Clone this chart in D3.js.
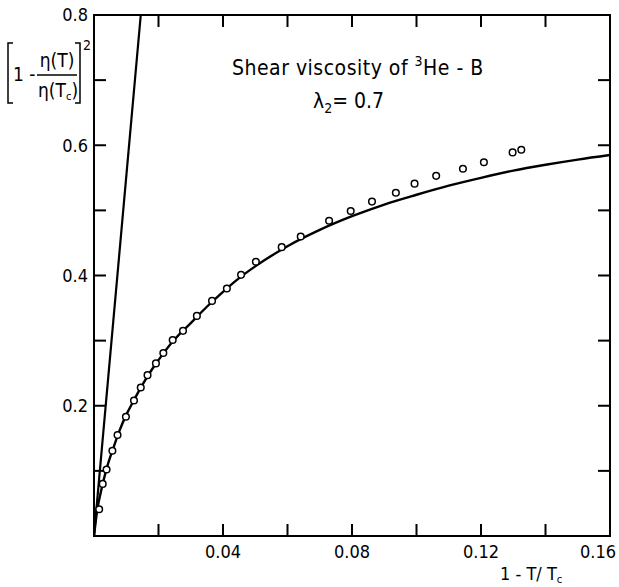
<!DOCTYPE html>
<html>
<head>
<meta charset="utf-8">
<script src="https://cdn.jsdelivr.net/npm/d3@7"></script>
<style>
  html, body { margin: 0; padding: 0; background: #fff; }
  text { font-family: "DejaVu Sans Condensed", "DejaVu Sans", sans-serif; fill: #000; }
</style>
</head>
<body>
<div id="chart"></div>
<script>
// measured points (1 - T/Tc, [1 - eta(T)/eta(Tc)]^2)
var dataX = [0.0016, 0.0027, 0.0039, 0.0057, 0.0073, 0.0099, 0.0124, 0.0145, 0.0166, 0.0192,
             0.0215, 0.0244, 0.0276, 0.0319, 0.0366, 0.0412, 0.0456, 0.0502, 0.0582, 0.0641,
             0.0729, 0.0796, 0.0862, 0.0936, 0.0994, 0.1061, 0.1144, 0.1209, 0.1298, 0.1325];
var dataY = [0.041, 0.080, 0.102, 0.131, 0.155, 0.183, 0.208, 0.228, 0.247, 0.265,
             0.281, 0.301, 0.315, 0.338, 0.361, 0.380, 0.401, 0.421, 0.4435, 0.460,
             0.484, 0.499, 0.5135, 0.527, 0.541, 0.553, 0.564, 0.574, 0.589, 0.593];

// theory curve (lambda2 = 0.7)
var curveX = [0, 0.001, 0.002, 0.004, 0.006, 0.008, 0.010, 0.012, 0.015, 0.018, 0.021, 0.025,
              0.030, 0.035, 0.040, 0.045, 0.050, 0.060, 0.070, 0.080, 0.090, 0.100, 0.110,
              0.120, 0.130, 0.140, 0.150, 0.160];
var curveY = [0, 0.040, 0.065, 0.105, 0.135, 0.163, 0.186, 0.205, 0.232, 0.256, 0.277, 0.302,
              0.327, 0.352, 0.375, 0.396, 0.414, 0.445, 0.470, 0.491, 0.509, 0.524, 0.538,
              0.550, 0.561, 0.570, 0.578, 0.585];

// steep straight line through origin
var lineX = [0, 0.0145];
var lineY = [0, 0.8];

var xTicks = [0.02, 0.04, 0.06, 0.08, 0.10, 0.12, 0.14];
var xLabels = [0.04, 0.08, 0.12, 0.16];
var xLabelText = ["0.04", "0.08", "0.12", "0.16"];
var yTicks = [0.1, 0.2, 0.3, 0.4, 0.5, 0.6, 0.7];
var yLabels = [0.2, 0.4, 0.6, 0.8];
var yLabelText = ["0.2", "0.4", "0.6", "0.8"];

var chartW = 619, chartH = 587;
var pLeft = 94, pRight = 610, pTop = 15, pBottom = 536;

var svg = d3.select("#chart").append("svg")
    .attr("width", chartW)
    .attr("height", chartH);

var x = d3.scaleLinear().domain([0, 0.16]).range([pLeft, pRight]);
var y = d3.scaleLinear().domain([0, 0.8]).range([pBottom, pTop]);

// frame
svg.append("rect")
    .attr("x", pLeft).attr("y", pTop)
    .attr("width", pRight - pLeft).attr("height", pBottom - pTop)
    .attr("fill", "none").attr("stroke", "#000").attr("stroke-width", 2);

// inward ticks on all four sides
var tl = 12;
var tickG = svg.append("g").attr("stroke", "#000").attr("stroke-width", 2);
xTicks.forEach(function(v) {
    tickG.append("line").attr("x1", x(v)).attr("x2", x(v)).attr("y1", pBottom).attr("y2", pBottom - tl);
    tickG.append("line").attr("x1", x(v)).attr("x2", x(v)).attr("y1", pTop).attr("y2", pTop + tl);
});
yTicks.forEach(function(v) {
    tickG.append("line").attr("x1", pLeft).attr("x2", pLeft + tl).attr("y1", y(v)).attr("y2", y(v));
    tickG.append("line").attr("x1", pRight).attr("x2", pRight - tl).attr("y1", y(v)).attr("y2", y(v));
});

// tick labels
xLabels.forEach(function(v, i) {
    var last = i == xLabels.length - 1;
    svg.append("text")
        .attr("x", last ? 616 : x(v))
        .attr("y", pBottom + 22)
        .attr("text-anchor", last ? "end" : "middle")
        .style("font-size", "18px")
        .text(xLabelText[i]);
});
yLabels.forEach(function(v, i) {
    svg.append("text")
        .attr("x", 88)
        .attr("y", y(v))
        .attr("dy", "0.35em")
        .attr("text-anchor", "end")
        .style("font-size", "18px")
        .text(yLabelText[i]);
});

// x axis title
var xt = svg.append("text").attr("x", 500).attr("y", 580).style("font-size", "18px");
xt.append("tspan").text("1 - T/ T");
xt.append("tspan").attr("dy", 3).style("font-size", "11px").text("c");

// y axis label: [1 - eta(T)/eta(Tc)]^2
var yl = svg.append("g");
yl.append("path")
    .attr("d", "M13,43 H8 V103 H13")
    .attr("fill", "none").attr("stroke", "#000").attr("stroke-width", 1.5);
yl.append("path")
    .attr("d", "M75,43 H80 V103 H75")
    .attr("fill", "none").attr("stroke", "#000").attr("stroke-width", 1.5);
yl.append("text").attr("x", 13).attr("y", 81).style("font-size", "19px").text("1 -");
yl.append("line").attr("x1", 37).attr("x2", 77).attr("y1", 75).attr("y2", 75)
    .attr("stroke", "#000").attr("stroke-width", 1.5);
yl.append("text").attr("x", 57).attr("y", 67).attr("text-anchor", "middle")
    .style("font-size", "19px").text("η(T)");
var den = yl.append("text").attr("x", 38).attr("y", 97).style("font-size", "19px");
den.append("tspan").text("η(T");
den.append("tspan").attr("dy", 3).style("font-size", "11px").text("c");
den.append("tspan").attr("dy", -3).text(")");
yl.append("text").attr("x", 83).attr("y", 50).style("font-size", "14px").text("2");

// title
var t1 = svg.append("text").attr("x", 232).attr("y", 75)
    .style("font-size", "21px").style("letter-spacing", "0.5px");
t1.append("tspan").text("Shear viscosity of ");
t1.append("tspan").attr("dy", -9).style("font-size", "14px").text("3");
t1.append("tspan").attr("dy", 9).text("He - B");

var t2 = svg.append("text").attr("x", 313).attr("y", 108).style("font-size", "21px");
t2.append("tspan").text("λ");
t2.append("tspan").attr("dy", 5).style("font-size", "14px").text("2");
t2.append("tspan").attr("dy", -5).text("= 0.7");

// clip for lines
svg.append("clipPath").attr("id", "plotclip")
  .append("rect").attr("x", pLeft).attr("y", pTop).attr("width", pRight - pLeft).attr("height", pBottom - pTop);

var steep = lineX.map(function(d, i) { return [d, lineY[i]]; });
var theory = curveX.map(function(d, i) { return [d, curveY[i]]; });
var points = dataX.map(function(d, i) { return [d, dataY[i]]; });

var line = d3.line().x(function(d) { return x(d[0]); }).y(function(d) { return y(d[1]); });

svg.append("path")
    .attr("clip-path", "url(#plotclip)")
    .attr("d", line(steep))
    .attr("fill", "none").attr("stroke", "#000").attr("stroke-width", 2.2);

svg.append("path")
    .attr("clip-path", "url(#plotclip)")
    .attr("d", line.curve(d3.curveMonotoneX)(theory))
    .attr("fill", "none").attr("stroke", "#000").attr("stroke-width", 2.4);

svg.append("g").selectAll("circle")
    .data(points)
    .enter().append("circle")
    .attr("cx", function(d) { return x(d[0]); })
    .attr("cy", function(d) { return y(d[1]); })
    .attr("r", 3.3)
    .attr("fill", "#fff")
    .attr("stroke", "#000")
    .attr("stroke-width", 1.5);
</script>
</body>
</html>
